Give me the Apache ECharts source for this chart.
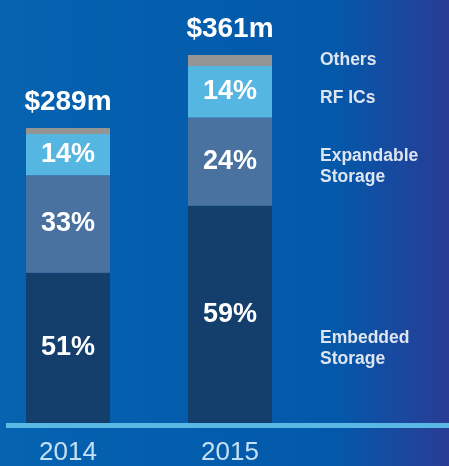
<!DOCTYPE html>
<html>
<head>
<meta charset="utf-8">
<style>html,body{margin:0;padding:0;}#c{width:449px;height:466px;}</style>
<script src="https://cdn.jsdelivr.net/npm/echarts@6/dist/echarts.min.js"></script>
</head>
<body>
<div id="c"></div>
<script>
var years = ['2014', '2015'];
var totals = [289, 361];
var seriesNames = ['Embedded Storage', 'Expandable Storage', 'RF ICs', 'Others'];
var embeddedPct = [51, 59];
var expandablePct = [33, 24];
var rfPct = [14, 14];
var othersPct = [2, 3];
var legendLabels = ['Others', 'RF ICs', 'Expandable\nStorage', 'Embedded\nStorage'];

var colors = ['#143f6c', '#4a72a0', '#55b6e1', '#959595'];
var pctArrays = [embeddedPct, expandablePct, rfPct, othersPct];

var chart = echarts.init(document.getElementById('c'));
var series = pctArrays.map(function (arr, si) {
  var isTop = si === 3;
  return {
    name: seriesNames[si],
    type: 'bar',
    stack: 'total',
    barWidth: 84,
    itemStyle: { color: colors[si] },
    data: arr.map(function (p, i) { return +(p / 100 * totals[i]).toFixed(1); }),
    label: isTop ? {
      show: true, position: 'top', distance: 12,
      formatter: function (p) { return '$' + totals[p.dataIndex] + 'm'; },
      color: '#ffffff', fontSize: 28, fontWeight: 'bold', fontFamily: 'Liberation Sans, Arial, sans-serif'
    } : {
      show: true, position: 'inside',
      formatter: function (p) { return arr[p.dataIndex] + '%'; },
      color: '#ffffff', fontSize: 27, fontWeight: 'bold', fontFamily: 'Liberation Sans, Arial, sans-serif'
    }
  };
});

var legendY = [60, 98, 167, 349];
var graphics = [{
  type: 'rect', z: 10,
  shape: { x: 6, y: 423, width: 449, height: 5 },
  style: { fill: '#5ab8e4' }
}];
legendLabels.forEach(function (t, i) {
  graphics.push({
    type: 'text', left: 320, top: legendY[i] - (t.indexOf('\n') >= 0 ? 21 : 10),
    style: { text: t, fill: '#dfe5ef', font: 'bold 17.5px "Liberation Sans", Arial, sans-serif', lineHeight: 21 }
  });
});

chart.setOption({
  animation: false,
  backgroundColor: {
    type: 'linear', x: 0, y: 0, x2: 1, y2: 0,
    colorStops: [
      { offset: 0, color: '#0563b0' },
      { offset: 0.75, color: '#0358aa' },
      { offset: 1, color: '#2a3c95' }
    ]
  },
  grid: { left: 68, right: 219, top: 15, bottom: 43 },
  xAxis: {
    type: 'category', data: years, boundaryGap: false,
    axisLine: { show: false }, axisTick: { show: false },
    axisLabel: { color: '#c4e0f4', fontSize: 26, margin: 17, fontFamily: 'Liberation Sans, Arial, sans-serif' }
  },
  yAxis: { type: 'value', min: 0, max: 400, show: false, splitLine: { show: false } },
  series: series,
  graphic: graphics
});
</script>
</body>
</html>
